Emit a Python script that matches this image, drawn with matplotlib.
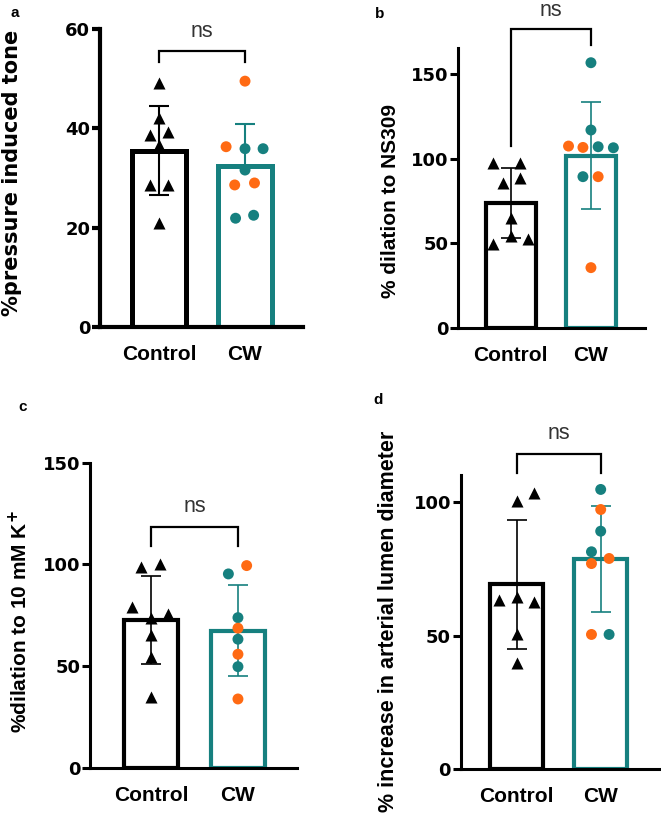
import matplotlib
matplotlib.use("Agg")
import matplotlib.pyplot as plt
import numpy as np

TEAL = '#16807f'
ORANGE = '#ff6a13'

groups = ['Control', 'CW']

# panel a - % pressure induced tone
a_ctrl = [49.1, 42.0, 38.7, 39.3, 36.6, 28.6, 28.6, 21.0]
a_ctrl_dx = [0, 0, -0.10, 0.10, 0, -0.10, 0.11, 0]
a_cw = [49.5, 36.3, 35.9, 35.9, 31.6, 28.6, 29.0, 21.9, 22.5]
a_cw_dx = [0, -0.22, 0, 0.21, 0, -0.12, 0.11, -0.11, 0.10]
a_cw_col = ['o', 'o', 't', 't', 't', 'o', 'o', 't', 't']

# panel b - % dilation to NS309
b_ctrl = [97.4, 97.4, 85.9, 88.5, 64.9, 54.4, 49.5, 52.4]
b_ctrl_dx = [-0.22, 0.11, -0.10, 0.11, 0, 0, -0.22, 0.22]
b_cw = [156.9, 117.1, 107.6, 106.8, 107.2, 106.6, 89.5, 89.5, 35.7]
b_cw_dx = [0, 0, -0.28, -0.10, 0.09, 0.28, -0.10, 0.09, 0]
b_cw_col = ['t', 't', 'o', 'o', 't', 't', 't', 'o', 'o']

# panel c - % dilation to 10 mM K+
c_ctrl = [98.9, 100.2, 78.9, 75.4, 73.8, 65.3, 54.6, 34.9]
c_ctrl_dx = [-0.11, 0.11, -0.22, 0.20, 0, 0, 0, 0]
c_cw = [95.3, 99.4, 73.8, 68.6, 63.2, 55.8, 49.7, 33.8]
c_cw_dx = [-0.11, 0.10, 0, 0, 0, 0, 0, 0]
c_cw_col = ['t', 'o', 't', 'o', 't', 'o', 't', 'o']

# panel d - % increase in arterial lumen diameter
d_ctrl = [100.2, 103.1, 63.2, 64.5, 62.6, 50.4, 39.6]
d_ctrl_dx = [0, 0.20, -0.21, 0, 0.20, 0, 0]
d_cw = [104.6, 97.1, 89.0, 81.3, 76.9, 78.8, 50.4, 50.4]
d_cw_dx = [0, 0, 0, -0.11, -0.11, 0.10, -0.11, 0.10]
d_cw_col = ['t', 'o', 't', 't', 'o', 'o', 'o', 't']

W, H = 661, 816
fig = plt.figure(figsize=(W / 100, H / 100), dpi=100)


def px_axes(x0, y_top, x1, y_bot):
    return fig.add_axes([x0 / W, 1 - y_bot / H, (x1 - x0) / W, (y_bot - y_top) / H])


def draw_panel(ax, ctrl, ctrl_dx, cw, cw_dx, cw_col, ylim, yticks, xlim,
               bracket, spine_lw, bar_lw, err_lw, cw_upper_only=False):
    ctrl = np.array(ctrl)
    cw = np.array(cw)
    means = [ctrl.mean(), cw.mean()]
    sds = [ctrl.std(ddof=1), cw.std(ddof=1)]
    edge = ['black', TEAL]

    ax.bar([0, 1], means, width=0.63, facecolor='white', edgecolor=edge,
           linewidth=bar_lw, zorder=1)
    for i in range(2):
        if i == 1 and cw_upper_only:
            yerr = [[0], [sds[i]]]
        else:
            yerr = [[sds[i]], [sds[i]]]
        ax.errorbar([i], [means[i]], yerr=yerr, fmt='none', ecolor=edge[i],
                    elinewidth=err_lw, capsize=7, capthick=err_lw, zorder=2)

    ax.scatter(np.array(ctrl_dx), ctrl, marker='^', s=75, color='black',
               linewidths=0, zorder=3, clip_on=False)
    cols = [TEAL if c == 't' else ORANGE for c in cw_col]
    ax.scatter(1 + np.array(cw_dx), cw, marker='o', s=62, color=cols,
               linewidths=0, zorder=3, clip_on=False)

    # significance bracket
    by, lleg, rleg, ty = bracket
    ax.plot([0, 0, 1, 1], [lleg, by, by, rleg], color='black', lw=1.6,
            clip_on=False, solid_joinstyle='miter')
    ax.text(0.5, ty, 'ns', ha='center', va='center', fontsize=15.5,
            color='#333333', family='Liberation Sans')

    ax.set_xlim(*xlim)
    ax.set_ylim(*ylim)
    ax.set_yticks(yticks)
    ax.set_xticks([0, 1])
    ax.set_xticklabels(groups, fontsize=15, fontweight='bold',
                       family='Liberation Sans')
    for lab in ax.get_yticklabels():
        lab.set_fontsize(13)
        lab.set_fontweight('bold')
        lab.set_family('DejaVu Sans')
    ax.tick_params(axis='x', length=0, pad=13)
    ax.tick_params(axis='y', length=6, width=spine_lw, pad=1)
    for s in ['top', 'right']:
        ax.spines[s].set_visible(False)
    for s in ['left', 'bottom']:
        ax.spines[s].set_linewidth(spine_lw)


# panel a
ax_a = px_axes(100, 29, 303, 327)
draw_panel(ax_a, a_ctrl, a_ctrl_dx, a_cw, a_cw_dx, a_cw_col, (0, 60), [0, 20, 40, 60],
           (-0.686, 1.674), (55.6, 53.4, 53.4, 59.5), 3.0, 3.6, 1.5, cw_upper_only=True)

# panel b
ax_b = px_axes(458, 48, 645, 328)
draw_panel(ax_b, b_ctrl, b_ctrl_dx, b_cw, b_cw_dx, b_cw_col, (0, 165.6), [0, 50, 100, 150],
           (-0.66, 1.675), (176.6, 107.8, 167.4, 188.0), 2.2, 3.0, 1.2)

# panel c
ax_c = px_axes(90, 462.7, 296.7, 767.7)
draw_panel(ax_c, c_ctrl, c_ctrl_dx, c_cw, c_cw_dx, c_cw_col, (0, 150), [0, 50, 100, 150],
           (-0.70, 1.675), (118.5, 109.2, 109.2, 128.7), 2.2, 3.0, 1.2)

# panel d
ax_d = px_axes(460.7, 475, 660, 769.3)
draw_panel(ax_d, d_ctrl, d_ctrl_dx, d_cw, d_cw_dx, d_cw_col, (0, 110), [0, 50, 100],
           (-0.667, 1.706), (118.0, 110.6, 110.6, 125.5), 2.2, 3.0, 1.2)

# y labels
fig.text(12.5 / W, 1 - 173 / H, '%pressure induced tone', rotation=90, ha='center',
         va='center', fontsize=15, fontweight='bold', family='DejaVu Sans')
fig.text(390 / W, 1 - 201 / H, '% dilation to NS309', rotation=90, ha='center',
         va='center', fontsize=15, fontweight='bold', family='Liberation Sans')
fig.text(19 / W, 1 - 622 / H, '%dilation to 10 mM K$^{\\mathbf{+}}$', rotation=90, ha='center',
         va='center', fontsize=15, fontweight='bold', family='Liberation Sans')
fig.text(388 / W, 1 - 621 / H, '% increase in arterial lumen diameter', rotation=90,
         ha='center', va='center', fontsize=15.5, fontweight='bold', family='Liberation Sans')

# panel letters
for letter, x, y in [('a', 15, 13), ('b', 380, 14), ('c', 23, 407), ('d', 378, 400)]:
    fig.text(x / W, 1 - y / H, letter, ha='center', va='center', fontsize=11,
             fontweight='bold', family='Liberation Sans')

plt.savefig('out.png', dpi=100)
